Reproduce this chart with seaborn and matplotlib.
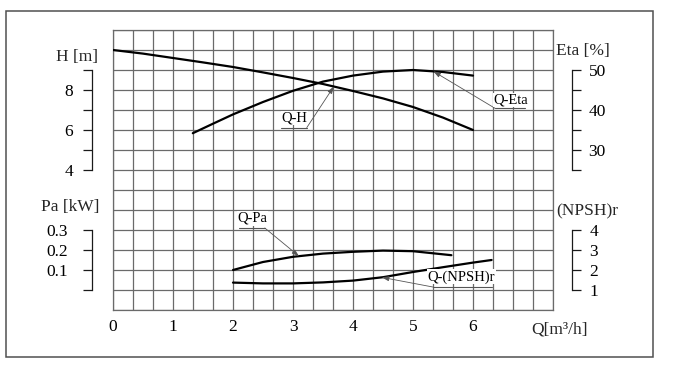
"""
Pump performance chart: Q-H, Q-Eta, Q-Pa and Q-(NPSH)r curves
drawn on one shared grid with four bracket-style value scales.
"""

import numpy as np
import matplotlib
matplotlib.use("Agg")
import matplotlib.pyplot as plt
import seaborn as sns
from matplotlib.patches import Rectangle

# --- Curve data ---
q_h = [0, 0.5, 1, 1.5, 2, 2.5, 3, 3.5, 4, 4.5, 5, 5.5, 6]
head = [10.0, 9.82, 9.6, 9.38, 9.15, 8.88, 8.6, 8.3, 7.95, 7.58, 7.15, 6.62, 6.0]

q_eta = [1.33, 1.67, 2, 2.5, 3, 3.5, 4, 4.5, 5, 5.5, 6]
eta = [34.2, 36.6, 38.9, 42.0, 44.8, 47.1, 48.6, 49.6, 50.0, 49.5, 48.6]

q_pa = [2, 2.5, 3, 3.5, 4, 4.5, 5, 5.64]
pa = [0.100, 0.140, 0.166, 0.182, 0.191, 0.197, 0.194, 0.174]

q_npsh = [2, 2.5, 3, 3.5, 4, 4.5, 5, 5.5, 6, 6.31]
npsh = [1.37, 1.33, 1.33, 1.38, 1.47, 1.64, 1.90, 2.14, 2.37, 2.50]

x_tick_values = [0, 1, 2, 3, 4, 5, 6]

W, HPX = 700, 371
DPI = 100
GRID = "#6a6a6a"
INK = "#1a1a1a"
FS = 12.5


def fx(x):
    return x / W


def fy(y):
    return 1 - y / HPX


def pt(px):
    return px * 72.0 / DPI


def make_bracket(ax, side, ylim, bounds, ticks, labels, offset_px, pad_px):
    """Turn a twin axes into a detached bracket scale on one side."""
    ax.set_ylim(*ylim)
    for s in ax.spines.values():
        s.set_visible(False)
    sp = ax.spines[side]
    sp.set_visible(True)
    sp.set_position(("outward", pt(offset_px)))
    sp.set_bounds(*bounds)
    sp.set_color(INK)
    sp.set_linewidth(0.9)
    if side == "left":
        ax.yaxis.tick_left()
    else:
        ax.yaxis.tick_right()
    ax.set_yticks(ticks, labels=labels)
    ax.tick_params(axis="y", direction="out", length=pt(9), width=0.9,
                   color=INK, pad=pt(pad_px), labelsize=FS, labelcolor="black",
                   left=(side == "left"), right=(side == "right"),
                   labelleft=(side == "left"), labelright=(side == "right"))


sns.set_theme(style="white")
plt.rcParams["font.family"] = ["Liberation Serif", "DejaVu Serif"]

fig = plt.figure(figsize=(W / DPI, HPX / DPI), dpi=DPI)
fig.patch.set_facecolor("white")

# outer frame
fig.add_artist(Rectangle((fx(6), fy(357)), 647 / W, 346 / HPX,
                         transform=fig.transFigure, fill=False,
                         ec="#505050", lw=1.1))

# grid axes: 22 x 14 cells, x in Q units, y in cell units
ax = fig.add_axes([fx(113), fy(310), 440 / W, 280 / HPX])
ax.set_xlim(0, 22 / 3)
ax.set_ylim(0, 14)
xt = np.arange(23) / 3
ax.set_xticks(xt, labels=[str(int(round(v))) if (i % 3 == 0 and round(v) in x_tick_values) else ""
                          for i, v in enumerate(xt)])
ax.set_yticks(np.arange(15), labels=[])
ax.tick_params(axis="both", length=0, labelsize=FS, labelcolor="black", pad=pt(9))
ax.grid(True, color=GRID, lw=0.9)
for s in ax.spines.values():
    s.set_color(GRID)
    s.set_linewidth(0.9)

# value scales
ax_h = ax.twinx()
make_bracket(ax_h, "left", (-3, 11), (4, 9), [4, 5, 6, 7, 8, 9],
             ["4", "", "6", "", "8", ""], 21, 10)

ax_eta = ax.twinx()
make_bracket(ax_eta, "right", (-10, 60), (25, 50), [25, 30, 35, 40, 45, 50],
             ["", "30", "", "40", "", "50"], 18.5, 8)

ax_pa = ax.twinx()
make_bracket(ax_pa, "left", (-0.1, 1.3), (0, 0.3), [0, 0.1, 0.2, 0.3],
             ["", "0.1", "0.2", "0.3"], 21, 15)

ax_npsh = ax.twinx()
make_bracket(ax_npsh, "right", (0, 14), (1, 4), [1, 2, 3, 4],
             ["1", "2", "3", "4"], 18.5, 9)

# curves
curve_kw = dict(color="black", linewidth=1.6, estimator=None, sort=False)
sns.lineplot(x=q_h, y=head, ax=ax_h, **curve_kw)
sns.lineplot(x=q_eta, y=eta, ax=ax_eta, **curve_kw)
sns.lineplot(x=q_pa, y=pa, ax=ax_pa, **curve_kw)
sns.lineplot(x=q_npsh, y=npsh, ax=ax_npsh, **curve_kw)
for a in (ax_h, ax_eta, ax_pa, ax_npsh):
    a.set_xlabel("")
    a.set_ylabel("")

# curve labels: text, underline (grid-cell coords), pointer to curve
labels = [
    ("Q-H", ax_h, q_h, head, 3.68, (3.02, 9.60), (2.80, 3.23), 9.12, "right"),
    ("Q-Eta", ax_eta, q_eta, eta, 5.34, (6.63, 10.50), (6.37, 6.87), 10.08, "left"),
    ("Q-Pa", ax_pa, q_pa, pa, 3.10, (2.32, 4.58), (2.10, 2.53), 4.1, "right"),
    ("Q-(NPSH)r", ax_npsh, q_npsh, npsh, 4.48, (5.81, 1.66), (5.33, 6.32), 1.15, "left"),
]
for text, cax, qs, vals, q_target, txy, ul, ul_y, start in labels:
    y_target = np.interp(q_target, qs, vals)
    x0 = ul[1] if start == "right" else ul[0]
    ax_npsh.annotate("", xy=(q_target, y_target), xycoords=cax.transData,
                     xytext=(x0, ul_y), textcoords=ax.transData,
                     arrowprops=dict(arrowstyle="-|>,head_length=0.35,head_width=0.12",
                                     color="#555555", lw=0.6,
                                     shrinkA=0, shrinkB=0))
    ax_npsh.plot(ul, [ul_y, ul_y], transform=ax.transData,
                 color="#555555", lw=0.8, clip_on=False)
    ax_npsh.text(txy[0], txy[1], text, transform=ax.transData,
                 ha="center", va="center", fontsize=10.5, color="black",
                 bbox=dict(boxstyle="square,pad=0.05", fc="white", ec="none"))

# axis titles
fig.text(fx(77), fy(57), "H [m]", ha="center", va="center", fontsize=FS)
fig.text(fx(70), fy(207), "Pa [kW]", ha="center", va="center", fontsize=FS)
fig.text(fx(583), fy(51), "Eta [%]", ha="center", va="center", fontsize=FS)
fig.text(fx(587), fy(211), "(NPSH)r", ha="center", va="center", fontsize=FS)
fig.text(fx(560), fy(330), "Q[m\u00b3/h]", ha="center", va="center", fontsize=FS)

fig.savefig("out.png", dpi=DPI, facecolor="white")
